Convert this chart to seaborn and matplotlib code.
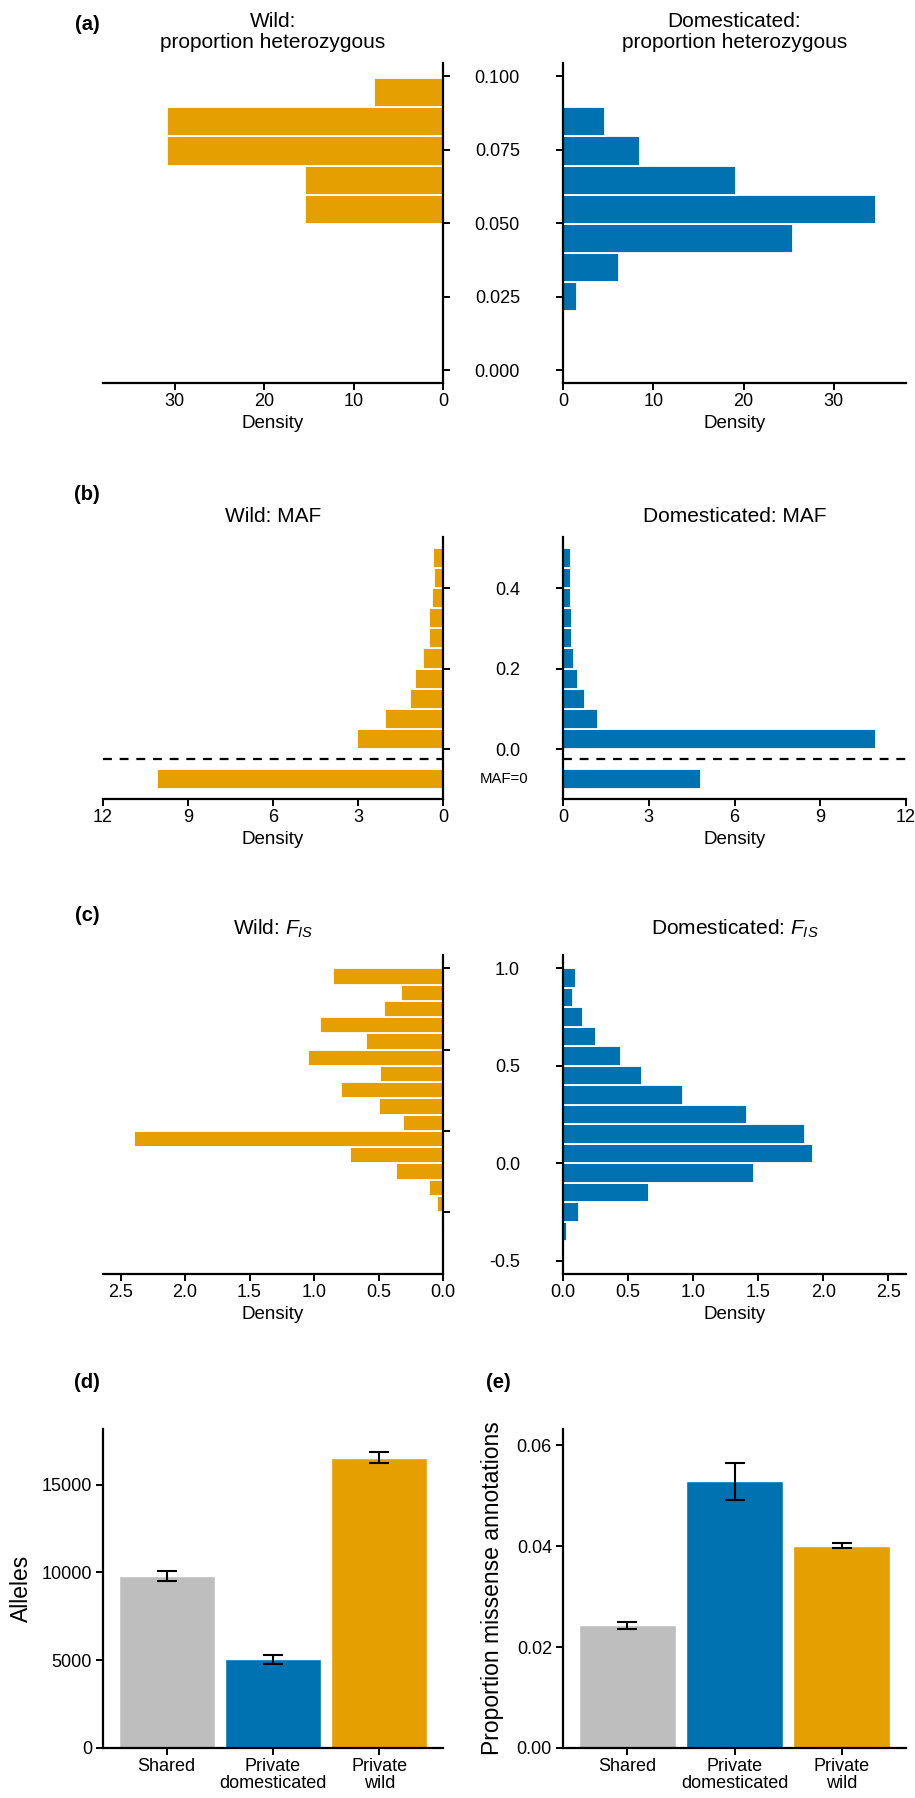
import matplotlib
matplotlib.use("Agg")
import matplotlib.pyplot as plt
import matplotlib.transforms as mtrans
import seaborn as sns
import numpy as np

# ---------------- data ----------------
# (a) proportion heterozygous: bin edges and densities (bottom -> top)
het_edges = [0.0201, 0.0300, 0.0399, 0.0498, 0.0597, 0.0696, 0.0795, 0.0894, 0.0993]
het_wild = [0, 0, 0, 15.4, 15.4, 30.8, 30.8, 7.75]
het_dom = [1.56, 6.2, 25.5, 34.7, 19.2, 8.57, 4.68, 0]

# (b) MAF: first bin is the "MAF=0" class, second bin empty (separator)
maf_edges = [-0.10, -0.05, 0.00, 0.05, 0.10, 0.15, 0.20, 0.25, 0.30, 0.35, 0.40, 0.45, 0.50]
maf_wild = [10.08, 0, 3.04, 2.03, 1.18, 0.99, 0.72, 0.48, 0.48, 0.39, 0.33, 0.35]
maf_dom = [4.84, 0, 10.95, 1.23, 0.76, 0.51, 0.39, 0.31, 0.31, 0.27, 0.27, 0.27]

# (c) F_IS
fis_wild_edges = [-0.7, -0.6, -0.5, -0.4, -0.3, -0.2, -0.1, 0.0, 0.1, 0.2, 0.3,
                  0.4, 0.5, 0.6, 0.7, 0.8, 0.9, 1.0]
fis_wild = [0.009, 0.014, 0.045, 0.105, 0.364, 0.723, 2.395, 0.309, 0.495, 0.791,
            0.486, 1.05, 0.595, 0.955, 0.455, 0.323, 0.855]
fis_dom_edges = [-0.4, -0.3, -0.2, -0.1, 0.0, 0.1, 0.2, 0.3, 0.4, 0.5, 0.6, 0.7, 0.8, 0.9, 1.0]
fis_dom = [0.032, 0.122, 0.662, 1.464, 1.92, 1.86, 1.41, 0.919, 0.608, 0.446,
           0.252, 0.153, 0.077, 0.099]

# (d), (e) bar charts
categories = ["Shared", "Private\ndomesticated", "Private\nwild"]
alleles = [9818, 5089, 16540]
alleles_lo = [9533, 4785, 16255]
alleles_hi = [10103, 5317, 16844]
missense = [0.02445, 0.0528, 0.0401]
missense_lo = [0.0236, 0.0491, 0.03964]
missense_hi = [0.0250, 0.0565, 0.04057]

het_ticks = [0.000, 0.025, 0.050, 0.075, 0.100]
maf_ticks = [0.0, 0.2, 0.4]
fis_ticks = [-0.5, 0.0, 0.5, 1.0]

ORANGE = "#E69F00"
BLUE = "#0072B2"
GREY = "#BEBEBE"

# ---------------- style ----------------
sns.set_theme(style="ticks")
plt.rcParams["font.family"] = ["Liberation Sans", "DejaVu Sans"]
plt.rcParams["text.color"] = "black"
plt.rcParams["axes.labelcolor"] = "black"
plt.rcParams["xtick.color"] = "black"
plt.rcParams["ytick.color"] = "black"
plt.rcParams["mathtext.fontset"] = "custom"
plt.rcParams["mathtext.rm"] = "Liberation Sans"
plt.rcParams["mathtext.it"] = "Liberation Sans:italic"
plt.rcParams["mathtext.bf"] = "Liberation Sans:bold"

W, H = 915, 1798
fig = plt.figure(figsize=(W / 100, H / 100), dpi=100)

TICK_FS = 13
LAB_FS = 13.5
TITLE_FS = 15
PANEL_FS = 14.5


def add_ax(x0, y0, x1, y1):
    return fig.add_axes([x0 / W, 1 - y1 / H, (x1 - x0) / W, (y1 - y0) / H])


def style(ax, mirrored):
    for s in ax.spines.values():
        s.set_linewidth(1.6)
        s.set_color("black")
    ax.spines["top"].set_visible(False)
    if mirrored:
        ax.spines["left"].set_visible(False)
        ax.yaxis.tick_right()
        ax.tick_params(axis="y", labelright=False)
    else:
        ax.spines["right"].set_visible(False)
    ax.tick_params(length=5, width=1.4, labelsize=TICK_FS, colors="black", direction="out")
    ax.tick_params(axis="x", pad=2)
    ax.set_xlabel("")
    ax.set_ylabel("")
    ax.grid(False)


def hist(ax, edges, dens, color):
    centers = [(edges[i] + edges[i + 1]) / 2 for i in range(len(dens))]
    sns.histplot(y=centers, weights=dens, bins=edges, stat="count", color=color,
                 alpha=1, edgecolor="white", linewidth=1.3, ax=ax)


def fig_text(x, y, s, **kw):
    fig.text(x / W, 1 - y / H, s, color="black", **kw)


LX0, LX1, RX0, RX1 = 103, 443, 563, 906

rows = [
    dict(y0=63, y1=383, wild=(het_edges, het_wild), dom=(het_edges, het_dom),
         lxlim=(38, 0), rxlim=(0, 38), lxt=[30, 20, 10, 0], rxt=[0, 10, 20, 30],
         lylim=(-0.0044, 0.1045), rylim=(-0.0044, 0.1045), lyt=het_ticks, ryt=het_ticks,
         yfmt="{:.3f}",
         titles=("Wild:\nproportion heterozygous", "Domesticated:\nproportion heterozygous"),
         title_y=47.5, panel="(a)", panel_y=24),
    dict(y0=537, y1=799, wild=(maf_edges, maf_wild), dom=(maf_edges, maf_dom),
         lxlim=(12, 0), rxlim=(0, 12), lxt=[12, 9, 6, 3, 0], rxt=[0, 3, 6, 9, 12],
         lylim=(-0.124, 0.527), rylim=(-0.124, 0.527), lyt=maf_ticks, ryt=maf_ticks,
         yfmt="{:.1f}",
         titles=("Wild: MAF", "Domesticated: MAF"), title_y=522, panel="(b)", panel_y=494),
    dict(y0=955, y1=1274, wild=(fis_wild_edges, fis_wild), dom=(fis_dom_edges, fis_dom),
         lxlim=(2.636, 0), rxlim=(0, 2.635), lxt=[2.5, 2.0, 1.5, 1.0, 0.5, 0.0],
         rxt=[0.0, 0.5, 1.0, 1.5, 2.0, 2.5],
         lylim=(-0.88, 1.082), rylim=(-0.567, 1.068), lyt=fis_ticks, ryt=fis_ticks,
         yfmt="{:.1f}",
         titles=("Wild: $\\mathit{F_{IS}}$", "Domesticated: $\\mathit{F_{IS}}$"),
         title_y=935, panel="(c)", panel_y=915.5),
]

for i, r in enumerate(rows):
    axl = add_ax(LX0, r["y0"], LX1, r["y1"])
    axr = add_ax(RX0, r["y0"], RX1, r["y1"])
    hist(axl, *r["wild"], ORANGE)
    hist(axr, *r["dom"], BLUE)
    style(axl, True)
    style(axr, False)
    axl.set_xlim(*r["lxlim"])
    axr.set_xlim(*r["rxlim"])
    axl.set_ylim(*r["lylim"])
    axr.set_ylim(*r["rylim"])
    axl.set_xticks(r["lxt"])
    axr.set_xticks(r["rxt"])
    if i == 2:
        axl.set_xticklabels([f"{v:.1f}" for v in r["lxt"]])
        axr.set_xticklabels([f"{v:.1f}" for v in r["rxt"]])
    else:
        axl.set_xticklabels([f"{v:g}" for v in r["lxt"]])
        axr.set_xticklabels([f"{v:g}" for v in r["rxt"]])
    axl.set_yticks(r["lyt"])
    axr.set_yticks(r["ryt"])
    axr.set_yticklabels([r["yfmt"].format(v).replace("\u2212", "-") for v in r["ryt"]])
    axr.tick_params(axis="y", pad=26)
    for ax in (axl, axr):
        ax.set_xlabel("Density", fontsize=LAB_FS, labelpad=4, color="black")
    if i == 1:
        for ax in (axl, axr):
            ax.axhline(-0.025, color="black", lw=1.6, dashes=(4, 3.5))
        tr = mtrans.blended_transform_factory(fig.transFigure, axr.transData)
        axr.text(504 / W, -0.075, "MAF=0", transform=tr, fontsize=10.7,
                 ha="center", va="center", color="black")
    fig_text((LX0 + LX1) / 2, r["title_y"], r["titles"][0], fontsize=TITLE_FS,
             ha="center", va="baseline", linespacing=1.07)
    fig_text((RX0 + RX1) / 2, r["title_y"], r["titles"][1], fontsize=TITLE_FS,
             ha="center", va="baseline", linespacing=1.07)
    fig_text(87, r["panel_y"], r["panel"], fontsize=PANEL_FS, fontweight="bold",
             ha="center", va="center")

# ---------------- bar charts ----------------
palette = [GREY, BLUE, ORANGE]
bar_specs = [
    (LX0, LX1, alleles, alleles_lo, alleles_hi, (0, 18170), [0, 5000, 10000, 15000],
     "{:.0f}", "Alleles", 21, "(d)", 87),
    (RX0, RX1, missense, missense_lo, missense_hi, (0, 0.0632), [0.0, 0.02, 0.04, 0.06],
     "{:.2f}", "Proportion missense annotations", 493, "(e)", 498),
]
for x0, x1, vals, lo, hi, ylim, yt, fmt, ylab, ylab_x, plab, plab_x in bar_specs:
    ax = add_ax(x0, 1429, x1, 1748)
    sns.barplot(x=categories, y=vals, hue=categories, palette=palette, saturation=1,
                width=0.9, legend=False, ax=ax)
    pos = np.arange(len(categories))
    yerr = [np.array(vals) - np.array(lo), np.array(hi) - np.array(vals)]
    ax.errorbar(pos, vals, yerr=yerr, fmt="none", ecolor="black", elinewidth=1.5,
                capsize=7, capthick=1.5)
    style(ax, False)
    ax.set_xlim(-0.6, 2.6)
    ax.set_ylim(*ylim)
    ax.set_yticks(yt)
    ax.set_yticklabels([fmt.format(v) for v in yt])
    ax.tick_params(axis="y", pad=3)
    ax.set_xticks(pos)
    ax.set_xticklabels(categories)
    for t in ax.get_xticklabels():
        t.set_linespacing(1.05)
    fig_text(ylab_x, 1588.5, ylab, fontsize=16.5, rotation=90, ha="center", va="center")
    fig_text(plab_x, 1382, plab, fontsize=PANEL_FS, fontweight="bold",
             ha="center", va="center")

fig.savefig("out.png", dpi=100)
